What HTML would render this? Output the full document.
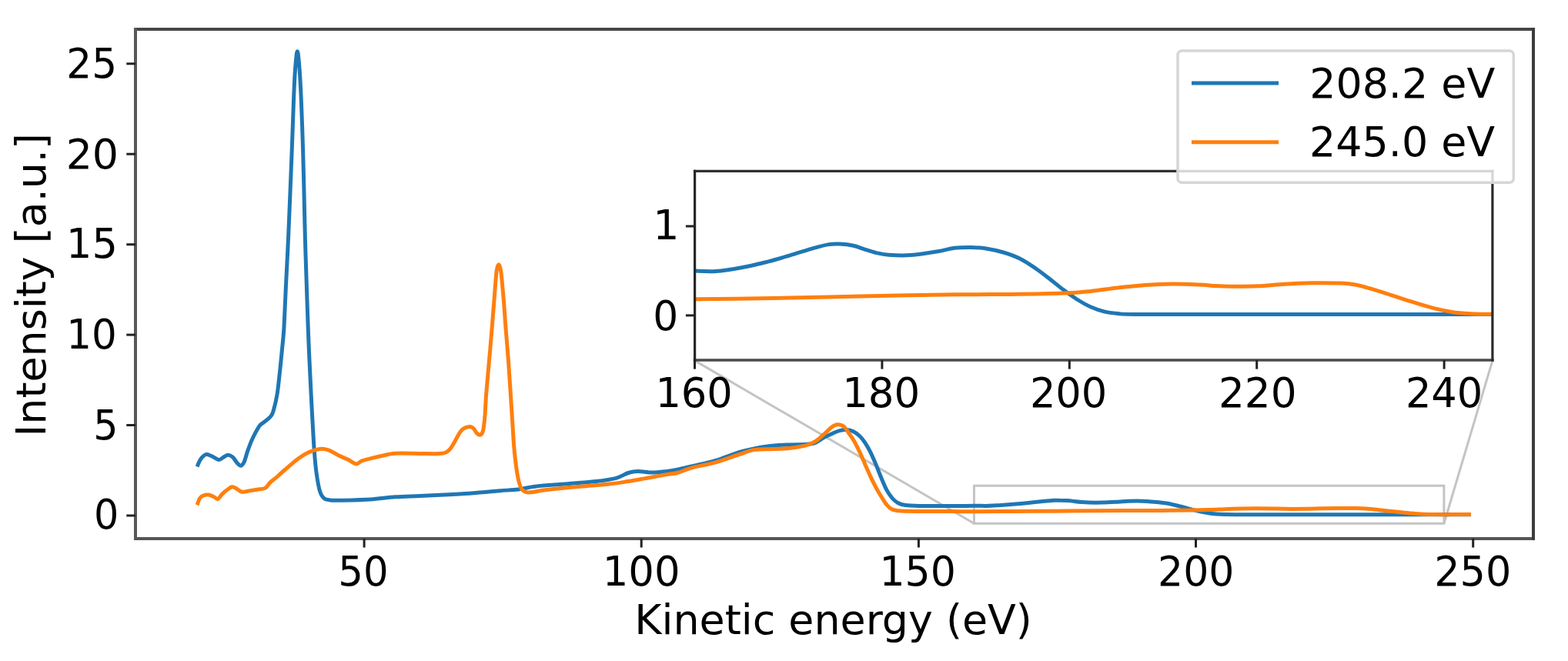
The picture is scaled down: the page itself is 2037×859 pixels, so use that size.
<!DOCTYPE html>
<html><head><meta charset="utf-8"><title>Kinetic energy spectra</title>
<style>
html,body{margin:0;padding:0;background:#fff;overflow:hidden;}
svg{display:block;}
text{font-family:"DejaVu Sans","Liberation Sans",sans-serif;fill:#000;}
</style></head><body>
<svg width="2037" height="859" viewBox="0 0 2037 859">
<rect x="0" y="0" width="2037" height="859" fill="#fff"/>
<defs><clipPath id="cm"><rect x="176" y="38" width="1816" height="662"/></clipPath>
<clipPath id="ci"><rect x="902.5" y="222.4" width="1036.4" height="245.6"/></clipPath></defs>
<line x1="902.5" y1="468.6" x2="1265.4" y2="680.3" stroke="#c4c4c4" stroke-width="3"/>
<line x1="1938.9" y1="468.6" x2="1875.9" y2="680.3" stroke="#c4c4c4" stroke-width="3"/>
<rect x="1265.4" y="631.2" width="610.5" height="49.1" fill="none" stroke="#c4c4c4" stroke-width="3"/>
<g clip-path="url(#cm)" fill="none" stroke-width="5" stroke-linejoin="round" stroke-linecap="butt">
<path d="M256.1,606.5 C256.8,604.9 258.6,599.5 260.5,596.9 C262.4,594.3 265.2,591.4 267.5,590.7 C269.8,590.0 271.7,591.4 274.5,592.5 C277.3,593.6 281.5,597.1 284.1,597.4 C286.7,597.7 288.2,595.2 290.2,594.2 C292.2,593.2 294.3,591.3 296.3,591.3 C298.3,591.3 300.4,592.4 302.4,594.2 C304.4,596.0 306.8,600.3 308.5,602.1 C310.2,603.9 311.4,605.5 312.9,605.2 C314.3,604.9 315.8,603.4 317.2,600.3 C318.6,597.2 320.0,591.0 321.6,586.4 C323.2,581.8 325.1,576.5 326.9,572.4 C328.6,568.3 330.4,565.1 332.1,561.9 C333.8,558.7 335.6,555.4 337.3,553.2 C339.1,551.0 340.8,550.3 342.6,548.8 C344.5,547.3 346.8,545.8 348.4,544.3 C350.0,542.8 351.3,541.9 352.5,540.0 C353.7,538.1 354.1,537.7 355.4,533.1 C356.7,528.5 358.7,520.8 360.1,512.2 C361.5,503.6 362.6,491.3 363.7,481.5 C364.8,471.7 365.6,462.9 366.5,453.5 C367.4,444.1 368.2,438.9 369.0,425.0 C369.8,411.1 370.6,389.2 371.5,370.0 C372.4,350.8 373.6,330.0 374.5,310.0 C375.4,290.0 376.2,269.2 377.0,250.0 C377.8,230.8 378.4,215.4 379.2,195.0 C380.0,174.6 380.9,145.2 381.6,127.5 C382.3,109.8 382.8,98.8 383.6,88.7 C384.4,78.6 385.4,66.8 386.3,66.8 C387.2,66.8 388.2,78.6 389.0,88.7 C389.8,98.8 390.4,109.8 391.2,127.5 C392.0,145.2 393.0,174.6 393.6,195.0 C394.2,215.4 394.5,230.8 395.0,250.0 C395.5,269.2 395.8,290.0 396.4,310.0 C396.9,330.0 397.7,350.8 398.3,370.0 C398.9,389.2 399.6,409.7 400.2,425.0 C400.8,440.3 401.1,448.8 401.7,461.9 C402.3,475.0 403.0,489.8 403.7,503.8 C404.4,517.8 405.1,531.7 405.9,545.7 C406.7,559.7 407.5,576.0 408.4,587.6 C409.3,599.2 410.0,607.1 411.2,615.5 C412.4,623.9 413.8,632.5 415.4,637.9 C417.0,643.3 418.7,645.7 421.0,647.7 C423.3,649.7 426.2,649.6 429.4,650.0 C432.6,650.4 431.4,650.5 440.0,650.3 C448.6,650.1 469.0,649.8 481.2,649.0 C493.4,648.2 502.5,646.5 513.2,645.8 C523.9,645.0 534.5,645.0 545.2,644.5 C555.9,644.0 566.5,643.5 577.2,643.0 C587.9,642.5 600.5,641.9 609.3,641.3 C618.1,640.7 623.2,640.0 630.0,639.4 C636.8,638.8 642.8,638.3 650.0,637.7 C657.2,637.1 666.3,636.9 673.3,636.0 C680.3,635.1 686.5,633.4 691.9,632.6 C697.3,631.8 698.3,631.6 705.9,631.0 C713.5,630.4 726.2,629.6 737.6,628.7 C749.0,627.8 763.8,626.7 774.3,625.5 C784.8,624.3 793.5,623.1 800.5,621.3 C807.5,619.5 811.5,616.0 816.2,614.5 C820.9,613.0 823.6,612.5 828.8,612.4 C834.0,612.3 841.3,614.0 847.6,614.0 C853.9,614.0 861.1,613.0 866.5,612.4 C871.9,611.8 874.7,611.4 880.0,610.3 C885.3,609.2 890.0,608.0 898.3,606.0 C906.6,604.0 918.7,601.8 929.7,598.5 C940.7,595.2 953.2,589.6 964.4,586.5 C975.6,583.4 986.8,581.4 997.0,580.0 C1007.2,578.6 1017.4,578.3 1025.6,577.9 C1033.8,577.5 1040.6,577.8 1046.0,577.5 C1051.4,577.2 1054.1,577.4 1058.2,575.9 C1062.3,574.4 1066.3,570.7 1070.4,568.5 C1074.5,566.3 1079.2,564.3 1082.6,562.8 C1086.0,561.3 1087.9,560.3 1090.8,559.6 C1093.7,558.9 1097.1,558.3 1100.0,558.5 C1102.9,558.7 1105.3,559.2 1108.1,560.6 C1110.9,562.0 1114.3,564.2 1116.9,566.7 C1119.5,569.2 1121.5,571.9 1123.8,575.4 C1126.1,578.9 1128.5,582.9 1130.8,587.6 C1133.1,592.3 1135.5,597.9 1137.8,603.4 C1140.1,608.9 1142.5,615.3 1144.8,620.8 C1147.1,626.3 1149.5,632.2 1151.8,636.6 C1154.1,641.0 1156.5,644.2 1158.8,647.0 C1161.1,649.8 1162.9,651.5 1165.8,653.1 C1168.7,654.7 1170.5,655.9 1176.2,656.6 C1181.9,657.3 1190.0,657.3 1200.0,657.5 C1210.0,657.7 1225.0,657.6 1236.0,657.6 C1247.0,657.6 1258.4,657.3 1266.0,657.3 C1273.6,657.2 1275.9,657.5 1281.7,657.4 C1287.4,657.2 1294.3,656.8 1300.5,656.5 C1306.8,656.1 1313.1,655.6 1319.4,655.0 C1325.6,654.5 1331.9,653.9 1338.2,653.2 C1344.5,652.6 1352.0,651.8 1357.0,651.3 C1362.1,650.8 1365.2,650.5 1368.5,650.3 C1371.8,650.1 1373.8,650.1 1376.9,650.2 C1380.0,650.2 1384.2,650.4 1387.4,650.6 C1390.5,650.8 1392.8,651.2 1395.7,651.5 C1398.7,651.9 1402.0,652.3 1405.1,652.5 C1408.3,652.8 1410.2,653.0 1414.5,653.1 C1418.9,653.2 1425.0,653.3 1431.3,653.1 C1437.6,653.0 1446.5,652.5 1452.2,652.2 C1457.8,651.8 1460.9,651.4 1465.1,651.2 C1469.4,651.1 1473.5,651.1 1477.7,651.1 C1481.9,651.1 1486.1,651.2 1490.2,651.4 C1494.4,651.6 1498.6,652.0 1502.8,652.4 C1507.0,652.8 1511.2,653.3 1515.3,654.0 C1519.5,654.7 1524.0,655.8 1527.9,656.7 C1531.7,657.6 1534.9,658.5 1538.4,659.4 C1541.9,660.3 1545.3,661.4 1548.8,662.3 C1552.3,663.1 1555.8,664.0 1559.3,664.8 C1562.8,665.5 1566.2,666.2 1569.7,666.7 C1573.2,667.3 1576.7,667.7 1580.2,668.0 C1583.7,668.3 1586.7,668.4 1590.7,668.5 C1594.7,668.6 1589.7,668.7 1604.3,668.7 C1618.9,668.7 1632.4,668.7 1678.2,668.7 C1724.1,668.7 1843.7,668.7 1879.5,668.7 C1915.2,668.7 1887.7,668.7 1893.0,668.7 C1898.3,668.7 1908.0,668.7 1911.0,668.7" stroke="#1f77b4"/>
<path d="M256.1,656.2 C256.7,654.8 258.3,649.5 259.6,647.5 C260.9,645.5 262.1,644.7 264.0,644.0 C265.9,643.3 268.7,642.8 271.0,643.1 C273.3,643.4 275.9,644.9 277.9,645.8 C279.9,646.7 281.4,649.0 283.2,648.4 C284.9,647.8 286.5,644.2 288.4,642.3 C290.3,640.4 292.3,638.6 294.5,637.0 C296.7,635.4 299.3,633.0 301.5,632.7 C303.7,632.4 305.4,634.2 307.6,635.3 C309.8,636.4 312.0,638.9 314.6,639.3 C317.2,639.7 320.2,638.4 323.4,637.9 C326.6,637.4 330.3,636.8 333.8,636.2 C337.3,635.6 341.4,636.0 344.3,634.4 C347.2,632.8 348.7,629.1 351.3,626.6 C353.9,624.1 356.8,622.4 360.0,619.6 C363.2,616.8 366.1,613.9 370.7,610.0 C375.3,606.1 382.4,599.7 387.5,596.0 C392.6,592.3 396.9,589.7 401.5,587.6 C406.1,585.5 411.2,583.9 415.4,583.4 C419.6,582.9 422.5,583.4 426.6,584.8 C430.7,586.2 436.0,590.0 440.2,592.0 C444.4,594.0 448.1,595.3 451.8,597.1 C455.5,598.9 459.6,602.6 462.6,602.9 C465.6,603.2 466.6,600.3 469.7,599.1 C472.8,597.9 476.5,597.1 481.2,595.9 C485.9,594.7 492.6,593.1 497.9,592.0 C503.2,590.9 505.3,589.6 513.2,589.2 C521.1,588.8 535.7,589.3 545.2,589.4 C554.7,589.5 564.3,589.8 570.0,589.6 C575.7,589.4 576.8,589.0 579.3,588.0 C581.8,587.0 583.2,585.3 584.9,583.3 C586.6,581.3 588.0,578.5 589.6,575.9 C591.2,573.3 592.7,570.1 594.2,567.5 C595.8,564.9 597.2,562.0 598.9,560.0 C600.6,558.0 602.5,556.7 604.5,555.8 C606.5,554.9 609.1,554.3 611.0,554.5 C612.9,554.7 614.2,555.8 615.6,557.2 C617.0,558.6 618.0,561.5 619.3,562.8 C620.5,564.1 621.9,565.4 623.1,565.2 C624.4,565.1 625.9,564.0 626.8,561.9 C627.7,559.8 628.2,556.5 628.7,552.6 C629.2,548.7 629.6,545.5 630.1,538.6 C630.6,531.7 630.8,522.9 631.7,511.4 C632.6,499.9 634.2,483.4 635.4,469.5 C636.6,455.6 637.9,441.6 639.0,427.7 C640.1,413.8 641.3,398.4 642.3,385.8 C643.3,373.2 644.2,359.3 645.1,352.3 C646.0,345.3 647.0,343.7 647.9,343.7 C648.8,343.7 649.7,345.3 650.7,352.3 C651.7,359.3 652.9,373.2 654.0,385.8 C655.1,398.4 656.0,413.8 657.1,427.7 C658.2,441.6 659.5,455.6 660.5,469.5 C661.5,483.4 662.4,497.4 663.3,511.4 C664.2,525.4 665.3,541.9 666.0,553.3 C666.7,564.7 667.1,572.5 667.7,580.0 C668.3,587.5 668.9,592.7 669.6,598.6 C670.3,604.5 671.0,610.4 671.9,615.4 C672.8,620.4 673.7,625.0 674.7,628.4 C675.7,631.8 676.4,634.0 677.9,635.9 C679.4,637.8 681.2,639.0 683.5,639.6 C685.8,640.2 688.9,639.9 691.9,639.6 C694.9,639.3 697.3,638.3 701.2,637.7 C705.1,637.1 706.5,636.8 715.2,635.9 C723.9,635.0 740.8,633.4 753.3,632.3 C765.8,631.2 779.5,630.3 790.0,629.2 C800.5,628.1 808.3,626.7 816.2,625.5 C824.1,624.3 829.4,623.3 837.2,621.9 C845.1,620.5 856.2,618.3 863.3,617.1 C870.4,615.9 874.2,616.0 880.0,614.5 C885.8,613.0 890.0,610.4 898.3,608.1 C906.6,605.8 919.4,603.7 929.7,600.8 C940.1,597.9 951.9,593.2 960.4,590.5 C968.9,587.8 973.2,585.5 980.7,584.4 C988.2,583.2 997.7,583.9 1005.2,583.6 C1012.7,583.3 1018.8,583.1 1025.6,582.4 C1032.4,581.6 1040.6,580.5 1046.0,579.1 C1051.4,577.7 1054.1,576.7 1058.2,574.2 C1062.3,571.8 1066.7,567.5 1070.4,564.4 C1074.1,561.2 1077.3,557.4 1080.2,555.3 C1083.1,553.2 1085.4,552.0 1088.0,551.8 C1090.6,551.6 1093.4,552.1 1095.9,554.0 C1098.4,555.9 1100.6,559.9 1102.9,563.2 C1105.2,566.5 1107.6,569.6 1109.9,573.7 C1112.2,577.8 1114.6,582.7 1116.9,587.6 C1119.2,592.5 1121.5,598.1 1123.8,603.4 C1126.1,608.6 1128.5,614.1 1130.8,619.1 C1133.1,624.1 1135.5,628.7 1137.8,633.1 C1140.1,637.5 1142.5,641.5 1144.8,645.3 C1147.1,649.1 1149.5,653.0 1151.8,655.8 C1154.1,658.6 1155.6,660.5 1158.8,661.9 C1162.0,663.3 1164.1,663.7 1171.0,664.1 C1177.9,664.5 1189.2,664.4 1200.0,664.5 C1210.8,664.6 1225.0,664.6 1236.0,664.6 C1247.0,664.6 1252.6,664.7 1266.0,664.7 C1279.4,664.7 1299.1,664.6 1316.2,664.5 C1333.3,664.4 1351.1,664.3 1368.5,664.2 C1385.9,664.0 1404.7,663.8 1420.8,663.7 C1436.9,663.6 1450.8,663.6 1465.1,663.5 C1479.5,663.5 1493.0,663.5 1507.0,663.4 C1520.9,663.4 1538.4,663.3 1548.8,663.1 C1559.3,663.0 1562.8,662.9 1569.7,662.6 C1576.7,662.4 1583.7,662.0 1590.7,661.7 C1597.7,661.5 1604.6,661.2 1611.6,661.0 C1618.5,660.8 1625.5,660.7 1632.5,660.7 C1639.5,660.7 1647.8,660.8 1653.4,660.9 C1659.1,661.0 1662.2,661.2 1666.4,661.2 C1670.5,661.3 1673.0,661.4 1678.2,661.4 C1683.4,661.4 1691.0,661.4 1697.7,661.3 C1704.5,661.2 1711.7,660.9 1718.7,660.8 C1725.7,660.6 1732.6,660.5 1739.6,660.5 C1746.6,660.4 1754.8,660.4 1760.5,660.5 C1766.3,660.6 1768.9,660.6 1774.1,661.0 C1779.3,661.3 1785.5,662.0 1791.9,662.7 C1798.4,663.3 1805.8,664.2 1812.8,665.0 C1819.8,665.7 1827.7,666.6 1833.8,667.1 C1839.9,667.7 1844.3,668.0 1849.4,668.2 C1854.6,668.5 1859.7,668.5 1864.7,668.6 C1869.7,668.7 1874.7,668.7 1879.5,668.7 C1884.2,668.7 1887.7,668.5 1893.0,668.5 C1898.3,668.5 1908.0,668.4 1911.0,668.4" stroke="#ff7f0e"/>
</g>
<g stroke-width="4" stroke-linecap="square">
<line x1="176" y1="700" x2="1992" y2="700" stroke="#555"/>
<line x1="176" y1="38" x2="1992" y2="38" stroke="#474747"/>
<line x1="176" y1="38" x2="176" y2="700" stroke="#585858"/>
<line x1="1992" y1="38" x2="1992" y2="700" stroke="#3c3c3c"/>
</g>
<line x1="473.1" y1="700" x2="473.1" y2="711.5" stroke="#222" stroke-width="3"/>
<text transform="translate(472.0,0) scale(0.955,1)" x="0" y="760.8" font-size="53.8" text-anchor="middle">50</text>
<line x1="833.2" y1="700" x2="833.2" y2="711.5" stroke="#222" stroke-width="3"/>
<text transform="translate(833.1,0) scale(0.982,1)" x="0" y="760.8" font-size="53.8" text-anchor="middle">100</text>
<line x1="1193.4" y1="700" x2="1193.4" y2="711.5" stroke="#222" stroke-width="3"/>
<text transform="translate(1192.1,0) scale(0.968,1)" x="0" y="760.8" font-size="53.8" text-anchor="middle">150</text>
<line x1="1553.5" y1="700" x2="1553.5" y2="711.5" stroke="#222" stroke-width="3"/>
<text transform="translate(1553.8,0) scale(0.968,1)" x="0" y="760.8" font-size="53.8" text-anchor="middle">200</text>
<line x1="1913.7" y1="700" x2="1913.7" y2="711.5" stroke="#222" stroke-width="3"/>
<text transform="translate(1913.3,0) scale(0.975,1)" x="0" y="760.8" font-size="53.8" text-anchor="middle">250</text>
<line x1="164.3" y1="670.0" x2="176" y2="670.0" stroke="#222" stroke-width="3"/>
<text transform="translate(138.2,0) scale(0.945,1) translate(-138.2,0)" x="155.2" y="687.3" font-size="53.8" text-anchor="end">0</text>
<line x1="164.3" y1="552.5" x2="176" y2="552.5" stroke="#222" stroke-width="3"/>
<text transform="translate(137.4,0) scale(0.940,1) translate(-137.4,0)" x="154.4" y="571.2" font-size="53.8" text-anchor="end">5</text>
<line x1="164.3" y1="435.1" x2="176" y2="435.1" stroke="#222" stroke-width="3"/>
<text transform="translate(120.3,0) scale(0.958,1) translate(-120.3,0)" x="153.3" y="452.8" font-size="53.8" text-anchor="end">10</text>
<line x1="164.3" y1="317.7" x2="176" y2="317.7" stroke="#222" stroke-width="3"/>
<text transform="translate(120.1,0) scale(0.975,1) translate(-120.1,0)" x="153.6" y="335.3" font-size="53.8" text-anchor="end">15</text>
<line x1="164.3" y1="200.2" x2="176" y2="200.2" stroke="#222" stroke-width="3"/>
<text transform="translate(120.1,0) scale(1.000,1) translate(-120.1,0)" x="154.1" y="219.0" font-size="53.8" text-anchor="end">20</text>
<line x1="164.3" y1="82.8" x2="176" y2="82.8" stroke="#222" stroke-width="3"/>
<text transform="translate(118.9,0) scale(0.960,1) translate(-118.9,0)" x="153.4" y="101.1" font-size="53.8" text-anchor="end">25</text>
<text x="1082.5" y="823.8" font-size="53.8" text-anchor="middle">Kinetic energy (eV)</text>
<text transform="translate(58.7,370.3) rotate(-90)" x="0" y="0" font-size="53.8" text-anchor="middle">Intensity [a.u.]</text>
<rect x="902.5" y="222.4" width="1036.4" height="245.6" fill="#fff"/>
<g clip-path="url(#ci)" fill="none" stroke-width="5" stroke-linejoin="round" stroke-linecap="butt">
<path d="M903.5,352.1 C907.9,352.2 920.3,353.2 930.0,352.5 C939.7,351.8 951.3,349.9 961.9,348.0 C972.5,346.1 983.1,343.6 993.7,341.0 C1004.3,338.4 1014.9,335.2 1025.5,332.1 C1036.1,329.0 1048.8,324.8 1057.3,322.4 C1065.8,320.0 1071.1,318.5 1076.7,317.6 C1082.3,316.7 1085.6,316.8 1090.9,317.1 C1096.2,317.4 1103.3,318.1 1108.6,319.2 C1113.9,320.3 1117.7,322.2 1122.7,323.8 C1127.7,325.4 1133.3,327.4 1138.6,328.6 C1143.9,329.9 1147.1,330.8 1154.5,331.3 C1161.9,331.8 1172.2,332.4 1182.8,331.6 C1193.4,330.9 1208.6,328.4 1218.1,326.8 C1227.6,325.2 1232.8,323.2 1240.0,322.3 C1247.2,321.4 1254.1,321.4 1261.2,321.5 C1268.3,321.6 1275.3,322.1 1282.4,323.2 C1289.5,324.3 1296.5,325.9 1303.6,328.0 C1310.7,330.1 1317.7,332.5 1324.8,336.0 C1331.9,339.5 1339.5,344.8 1346.0,349.2 C1352.5,353.6 1357.8,357.9 1363.7,362.5 C1369.6,367.1 1375.5,372.2 1381.4,376.6 C1387.3,381.0 1393.2,385.3 1399.1,389.0 C1405.0,392.7 1410.8,396.1 1416.7,398.7 C1422.6,401.3 1428.5,403.4 1434.4,404.9 C1440.3,406.4 1445.3,406.9 1452.1,407.5 C1458.9,408.1 1450.4,408.2 1475.1,408.4 C1499.8,408.5 1522.5,408.4 1600.0,408.4 C1677.5,408.4 1883.3,408.4 1940.0,408.4" stroke="#1f77b4"/>
<path d="M903.5,388.7 C917.6,388.6 959.5,388.2 988.4,387.8 C1017.3,387.4 1047.2,386.6 1076.7,386.0 C1106.2,385.4 1137.9,384.4 1165.1,383.9 C1192.3,383.4 1215.7,383.1 1240.0,382.8 C1264.3,382.6 1287.1,382.7 1310.7,382.4 C1334.3,382.1 1363.7,381.7 1381.4,381.0 C1399.1,380.3 1404.9,379.6 1416.7,378.4 C1428.5,377.2 1440.3,375.3 1452.1,374.0 C1463.9,372.7 1475.6,371.2 1487.4,370.4 C1499.2,369.6 1511.0,369.1 1522.8,369.0 C1534.6,368.9 1548.6,369.5 1558.1,369.9 C1567.6,370.3 1573.0,371.2 1580.0,371.6 C1587.0,372.0 1591.2,372.2 1600.0,372.2 C1608.8,372.2 1621.6,372.3 1633.0,371.8 C1644.4,371.3 1656.6,369.9 1668.4,369.2 C1680.2,368.5 1691.9,368.0 1703.7,367.8 C1715.5,367.6 1729.4,367.6 1739.1,368.0 C1748.8,368.4 1753.2,368.5 1762.0,370.3 C1770.8,372.1 1781.2,375.3 1792.1,378.6 C1803.0,381.9 1815.6,386.4 1827.4,390.1 C1839.2,393.8 1852.5,398.1 1862.8,400.7 C1873.1,403.3 1880.6,404.8 1889.3,406.0 C1898.0,407.2 1906.5,407.6 1915.0,408.0 C1923.5,408.4 1935.8,408.2 1940.0,408.3" stroke="#ff7f0e"/>
</g>
<g stroke-linecap="square">
<line x1="902.5" y1="468" x2="1938.9" y2="468" stroke="#4a4a4a" stroke-width="3.6"/>
<line x1="902.5" y1="222.4" x2="1938.9" y2="222.4" stroke="#303030" stroke-width="3.2"/>
<line x1="902.6" y1="222.4" x2="902.6" y2="468" stroke="#262626" stroke-width="3.2"/>
<line x1="1938.9" y1="222.4" x2="1938.9" y2="468" stroke="#2a2a2a" stroke-width="3.2"/>
</g>
<line x1="902.5" y1="468" x2="902.5" y2="479.6" stroke="#222" stroke-width="3"/>
<text transform="translate(901.6,0) scale(0.978,1)" x="0" y="528.6" font-size="53.8" text-anchor="middle">160</text>
<line x1="1145.9" y1="468" x2="1145.9" y2="479.6" stroke="#222" stroke-width="3"/>
<text transform="translate(1144.7,0) scale(0.985,1)" x="0" y="528.6" font-size="53.8" text-anchor="middle">180</text>
<line x1="1389.3" y1="468" x2="1389.3" y2="479.6" stroke="#222" stroke-width="3"/>
<text transform="translate(1388.1,0) scale(0.978,1)" x="0" y="528.6" font-size="53.8" text-anchor="middle">200</text>
<line x1="1632.7" y1="468" x2="1632.7" y2="479.6" stroke="#222" stroke-width="3"/>
<text transform="translate(1633.7,0) scale(0.990,1)" x="0" y="528.6" font-size="53.8" text-anchor="middle">220</text>
<line x1="1876.1" y1="468" x2="1876.1" y2="479.6" stroke="#222" stroke-width="3"/>
<text transform="translate(1876.1,0) scale(0.978,1)" x="0" y="528.6" font-size="53.8" text-anchor="middle">240</text>
<line x1="890.9" y1="409.9" x2="902.5" y2="409.9" stroke="#222" stroke-width="3"/>
<text transform="translate(864.8,0) scale(0.963,1) translate(-864.8,0)" x="881.8" y="429.2" font-size="53.8" text-anchor="end">0</text>
<line x1="890.9" y1="294.0" x2="902.5" y2="294.0" stroke="#222" stroke-width="3"/>
<text transform="translate(865.5,0) scale(1.000,1) translate(-865.5,0)" x="882.5" y="311.1" font-size="53.8" text-anchor="end">1</text>
<rect x="1530" y="66" width="436.3" height="171.3" rx="5.5" ry="5.5" fill="#fff" fill-opacity="0.8" stroke="#d6d6d6" stroke-width="3.5"/>
<line x1="1548" y1="108" x2="1661" y2="108" stroke="#1f77b4" stroke-width="5"/>
<line x1="1548" y1="184.8" x2="1661" y2="184.8" stroke="#ff7f0e" stroke-width="5"/>
<text x="1701.2" y="126.55" font-size="53.8">208.2 eV</text>
<text x="1701.1" y="203.45" font-size="53.8">245.0 eV</text>
</svg></body></html>
